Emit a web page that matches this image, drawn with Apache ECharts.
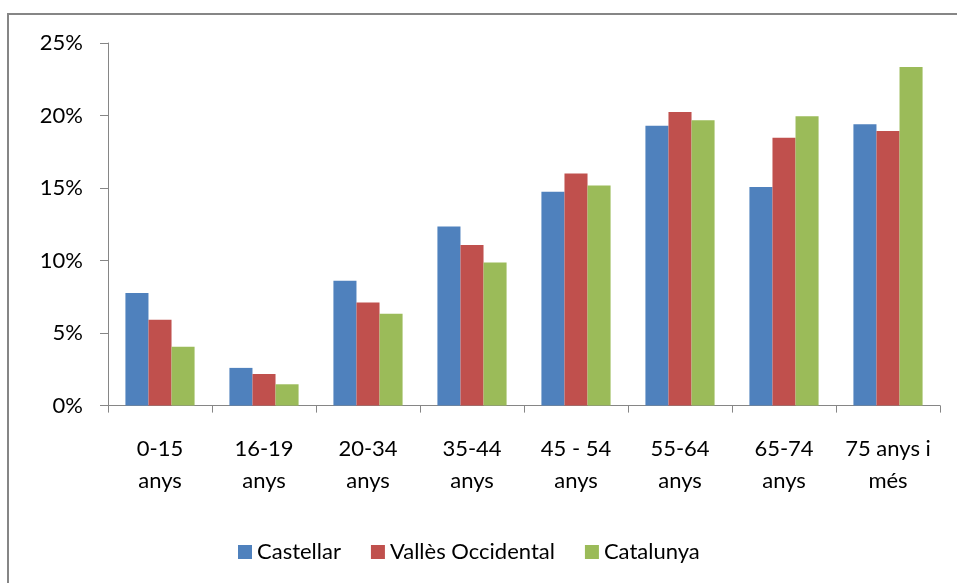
<!DOCTYPE html>
<html>
<head>
<meta charset="utf-8">
<script src="https://cdn.jsdelivr.net/npm/echarts@6/dist/echarts.min.js"></script>
<style>html,body{margin:0;padding:0;background:#fff}#c{width:957px;height:583px}</style>
</head>
<body>
<div id="c"></div>
<script>
var categories = ['0-15\nanys', '16-19\nanys', '20-34\nanys', '35-44\nanys', '45 - 54\nanys', '55-64\nanys', '65-74\nanys', '75 anys i\nmés'];
var castellar = [7.77, 2.6, 8.6, 12.35, 14.75, 19.3, 15.07, 19.4];
var valles = [5.92, 2.18, 7.1, 11.08, 16.0, 20.25, 18.46, 18.94];
var catalunya = [4.06, 1.47, 6.33, 9.87, 15.17, 19.68, 19.95, 23.35];
var yTicks = [0, 25, 5];

var font = 'Lato, "Liberation Sans", sans-serif';
var chart = echarts.init(document.getElementById('c'), null, {renderer: 'canvas'});
chart.setOption({
  animation: false,
  backgroundColor: '#fff',
  textStyle: {fontFamily: font},
  graphic: [{
    type: 'polyline',
    shape: {points: [[8, 600], [8, 14], [960, 14]]},
    style: {stroke: '#868686', lineWidth: 2, fill: null},
    silent: true
  }],
  grid: {left: 108, right: 17, top: 43, bottom: 177.4, containLabel: false},
  legend: {
    left: 233, top: 536,
    itemWidth: 14, itemHeight: 14, itemGap: 30,
    icon: 'rect',
    textStyle: {fontSize: 22, color: '#000', fontFamily: font},
    data: ['Castellar', 'Vallès Occidental', 'Catalunya']
  },
  xAxis: {
    type: 'category',
    data: categories,
    axisLine: {lineStyle: {color: '#868686', width: 1}},
    axisTick: {show: true, length: 7, lineStyle: {color: '#868686'}, alignWithLabel: false},
    axisLabel: {fontSize: 22, color: '#000', lineHeight: 32, margin: 27, interval: 0, fontFamily: font},
    splitLine: {show: false}
  },
  yAxis: {
    type: 'value',
    min: yTicks[0], max: yTicks[1], interval: yTicks[2],
    axisLine: {show: true, lineStyle: {color: '#868686', width: 1}},
    axisTick: {show: true, length: 8, lineStyle: {color: '#868686'}},
    axisLabel: {fontSize: 22, color: '#000', margin: 25, formatter: '{value}%', fontFamily: font},
    splitLine: {show: false}
  },
  series: [
    {name: 'Castellar', type: 'bar', data: castellar, barGap: '0%', barCategoryGap: '33.5%', itemStyle: {color: '#4F81BD'}},
    {name: 'Vallès Occidental', type: 'bar', data: valles, barGap: '0%', barCategoryGap: '33.5%', itemStyle: {color: '#C0504D'}},
    {name: 'Catalunya', type: 'bar', data: catalunya, barGap: '0%', barCategoryGap: '33.5%', itemStyle: {color: '#9BBB59'}}
  ]
});
</script>
</body>
</html>
